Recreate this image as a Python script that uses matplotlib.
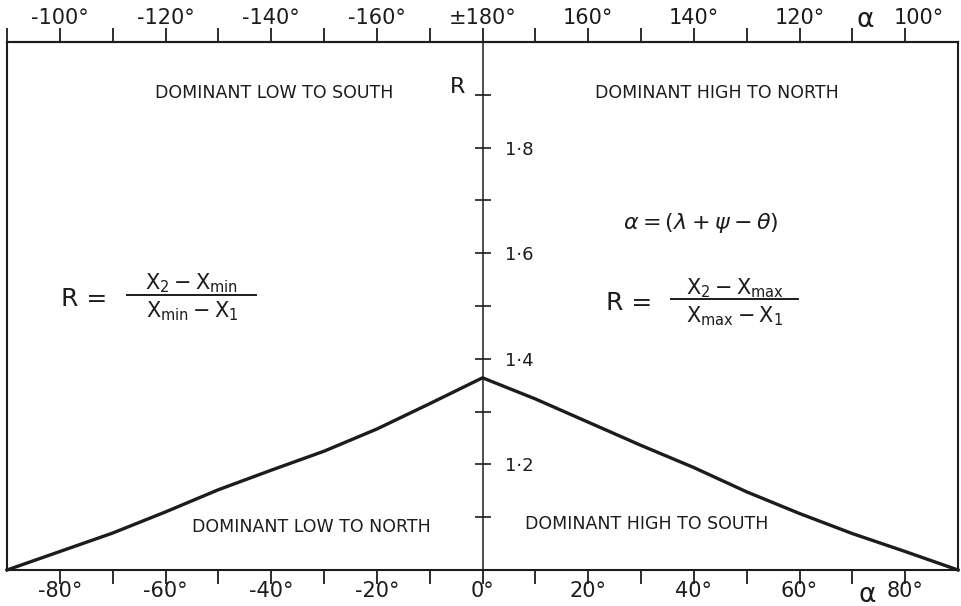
import matplotlib
matplotlib.use("Agg")

import numpy as np
import matplotlib.pyplot as plt
from matplotlib.ticker import FixedLocator
from matplotlib.transforms import ScaledTranslation

# phase angle alpha (deg) and amplitude ratio R
alpha_deg = [-90, -80, -70, -60, -50, -40, -30, -20, -10, 0,
             10, 20, 30, 40, 50, 60, 70, 80, 90]
ratio = [1.000, 1.035, 1.070, 1.110, 1.152, 1.189, 1.225, 1.267, 1.315, 1.364,
         1.324, 1.280, 1.236, 1.194, 1.148, 1.107, 1.069, 1.035, 1.000]

bottom_ticks = [-80, -60, -40, -20, 0, 20, 40, 60, 80]
bottom_labels = ["-80°", "-60°", "-40°", "-20°", "0°", "20°", "40°", "60°", "80°"]
top_labels = ["-100°", "-120°", "-140°", "-160°", "±180°", "160°", "140°", "120°", "100°"]
odd_ticks = [-70, -50, -30, -10, 10, 30, 50, 70]

r_ticks = [1.2, 1.4, 1.6, 1.8]
r_labels = ["1·2", "1·4", "1·6", "1·8"]
r_minor = [1.1, 1.3, 1.5, 1.7, 1.9]

ink = "#1c1c1c"
plt.rcParams["font.family"] = ["DejaVu Sans"]
plt.rcParams["mathtext.fontset"] = "dejavusans"

fig = plt.figure(figsize=(9.62, 6.06), dpi=100)
ax = fig.add_axes([0.00728, 0.0594, 0.9886, 0.8713])

ax.plot(alpha_deg, ratio, color=ink, lw=2.4, solid_joinstyle="round", clip_on=False)
ax.set_xlim(-90, 90)
ax.set_ylim(1.0, 2.0)

for s in ["left", "bottom", "top"]:
    ax.spines[s].set_linewidth(1.5)
    ax.spines[s].set_color(ink)

# R axis runs up the middle at alpha = 0
ax.spines["right"].set_position(("data", 0))
ax.spines["right"].set_linewidth(1.1)
ax.spines["right"].set_color(ink)
ax.yaxis.tick_right()
ax.yaxis.set_major_locator(FixedLocator(r_ticks))
ax.yaxis.set_minor_locator(FixedLocator(r_minor))
ax.set_yticklabels(r_labels)
ax.tick_params(axis="y", which="both", direction="inout", length=12, width=1.2,
               color=ink, labelsize=13, labelcolor=ink, pad=10)

ax.set_xticks(bottom_ticks)
ax.set_xticklabels(bottom_labels)
ax.xaxis.set_minor_locator(FixedLocator(odd_ticks))
ax.tick_params(axis="x", which="both", direction="out", length=10, width=1.3,
               color=ink, labelsize=15, labelcolor=ink, pad=-2)

# top scale: same positions, labelled 180 - |alpha|
ax2 = ax.twiny()
ax2.set_xlim(-90, 90)
ax2.set_xticks(bottom_ticks)
ax2.set_xticklabels(top_labels)
ax2.xaxis.set_minor_locator(FixedLocator(odd_ticks + [-90]))
ax2.tick_params(axis="x", which="both", direction="out", length=10, width=1.3,
                color=ink, labelsize=15, labelcolor=ink, pad=0)
for s in ax2.spines.values():
    s.set_linewidth(1.5)
    s.set_color(ink)
ax2.spines["left"].set_visible(False)
ax2.spines["bottom"].set_visible(False)

# nudge the last top label right to leave room for the alpha symbol
last = ax2.get_xticklabels()[-1]
last.set_transform(last.get_transform() + ScaledTranslation(10 / 72, 0, fig.dpi_scale_trans))

# axis symbols
ax.text(72.5, 2.0 + 22 / 530, "α", fontsize=19, color=ink,
        ha="center", va="center", clip_on=False)
ax.text(72.8, 1.0 - 25 / 530, "α", fontsize=19, color=ink,
        ha="center", va="center", clip_on=False)
ax.text(-4.7, 1.915, "R", fontsize=16, color=ink, ha="center", va="center")

# regions
ax.text(-39.4, 1.904, "DOMINANT LOW TO SOUTH", fontsize=12.5, color=ink,
        ha="center", va="center")
ax.text(44.3, 1.904, "DOMINANT HIGH TO NORTH", fontsize=12.5, color=ink,
        ha="center", va="center")
ax.text(-32.3, 1.081, "DOMINANT LOW TO NORTH", fontsize=12.5, color=ink,
        ha="center", va="center")
ax.text(31.0, 1.087, "DOMINANT HIGH TO SOUTH", fontsize=12.5, color=ink,
        ha="center", va="center")


def ratio_formula(x_eq, x_bar, bar_half, y_bar, y_num, y_den, num, den):
    ax.text(x_eq, y_bar - 0.008, "R =", fontsize=18, color=ink,
            ha="center", va="center")
    ax.plot([x_bar - bar_half, x_bar + bar_half], [y_bar, y_bar],
            color=ink, lw=1.4)
    ax.text(x_bar, y_num, num, fontsize=15, color=ink, ha="center", va="center")
    ax.text(x_bar, y_den, den, fontsize=15, color=ink, ha="center", va="center")


ratio_formula(-75.4, -55.0, 12.2, 1.521, 1.543, 1.490,
              r"$\mathsf{X_2 - X_{min}}$", r"$\mathsf{X_{min} - X_1}$")
ratio_formula(27.8, 47.7, 12.0, 1.513, 1.534, 1.481,
              r"$\mathsf{X_2 - X_{max}}$", r"$\mathsf{X_{max} - X_1}$")

ax.text(41.3, 1.657, r"$\alpha = (\lambda + \psi - \theta)$", fontsize=16,
        color=ink, ha="center", va="center")

fig.savefig("out.png", dpi=100, facecolor="white")
